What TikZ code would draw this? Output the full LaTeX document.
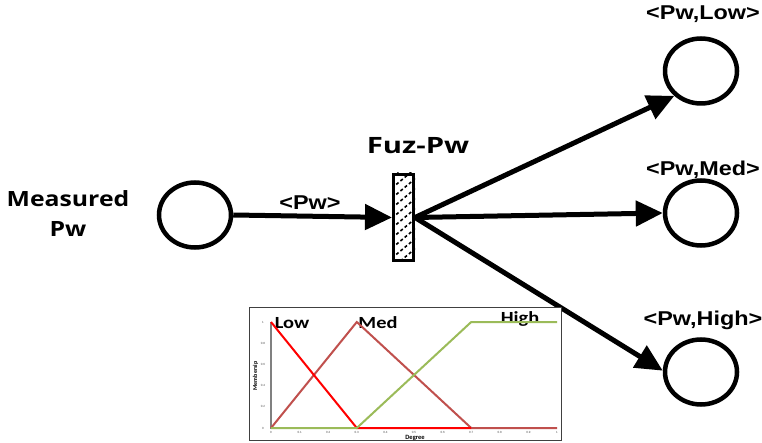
\documentclass[tikz,border=0pt]{standalone}
\usepackage{fontspec}
\setmainfont{Liberation Sans}
\newfontfamily\segoe{Open Sans}
\newfontfamily\cali{Carlito}
\usetikzlibrary{arrows.meta,shapes.geometric}
\definecolor{medc}{RGB}{192,80,77}
\definecolor{highc}{RGB}{155,187,89}
\definecolor{lowc}{RGB}{255,0,0}
\begin{document}
\begin{tikzpicture}[x=1pt,y=-1pt,
  place/.style={draw=black,line width=4.5pt,ellipse,minimum width=72pt,minimum height=65pt,inner sep=0pt},
  arc/.style={line width=5pt,-{Triangle[length=27pt,width=25pt]}},
  lbl/.style={font=\bfseries\fontsize{20}{22}\selectfont,inner sep=0pt},
  big/.style={font=\segoe\bfseries\fontsize{21}{30}\selectfont,inner sep=0pt,align=center},
  curve/.style={line width=2pt,line join=miter},
  tick/.style={font=\fontsize{3}{3}\selectfont,inner sep=0pt,text=black!70},
  chartlbl/.style={font=\cali\bfseries\fontsize{17}{18}\selectfont,inner sep=0pt,anchor=base}]
\useasboundingbox (0,0) rectangle (762,443);
% places
\node[place] (mp) at (195,215) {};
\node[place] (low) at (701,71) {};
\node[place] (med) at (701,213) {};
\node[place] (high) at (701,372) {};
% transition
\node[draw=black,line width=3pt,minimum width=20pt,minimum height=86pt,inner sep=0pt] (t) at (403.5,217.5) {};
\begin{scope}
\clip (t.south west) rectangle (t.north east);
\foreach \k in {0,...,9} {
  \draw[line width=1.6pt,dash pattern=on 3pt off 2.5pt] (392,{268-10*\k}) -- (416,{248-10*\k});
}
\end{scope}
\node[draw=black,line width=3pt,minimum width=20pt,minimum height=86pt,inner sep=0pt] at (403.5,217.5) {};
% labels
\node[big] (mlab) at (68,214) {\scalebox{1.18}[1]{Measured}\\\scalebox{1.18}[1]{Pw}};
\node[font=\segoe\bfseries\fontsize{22.5}{24}\selectfont,inner sep=0pt,anchor=base] (tlab) at (418,154) {\scalebox{1.3}[1]{Fuz-Pw}};
\node[lbl] (l0) at (310,203) {\scalebox{1.17}[1]{<Pw>}};
\node[lbl] (l1) at (703,14) {\scalebox{1.17}[1]{<Pw,Low>}};
\node[lbl] (l2) at (703,170) {\scalebox{1.17}[1]{<Pw,Med>}};
\node[lbl] (l3) at (703,320) {\scalebox{1.17}[1]{<Pw,High>}};
% arcs
\draw[arc] (mp.east) -- (t.west);
\draw[arc] (t.east) -- (low.223);
\draw[arc] (t.east) -- (med.west);
\draw[arc] (t.east) -- (high.178);
% chart
\node[draw=black!75,line width=1.2pt,fill=white,minimum width=312pt,minimum height=133pt,inner sep=0pt] (chart) at (405.5,374) {};
\draw[gray,line width=1.3pt] (271,322) -- (271,428) -- (557,428);
\foreach \v/\lab in {0/0,0.2/0.2,0.4/0.4,0.6/0.6,0.8/0.8,1/1} {
  \node[tick] at (263,{428-106*\v}) {\lab};
}
\foreach \v/\lab in {0/0,0.1/0.1,0.2/0.2,0.3/0.3,0.4/0.4,0.5/0.5,0.6/0.6,0.7/0.7,0.8/0.8,0.9/0.9,1/1} {
  \node[tick] at ({271+286*\v},432) {\lab};
}
\node[font=\cali\bfseries\fontsize{6.5}{7}\selectfont,inner sep=0pt,anchor=base] (deg) at (415,439.5) {Degree};
\node[font=\cali\bfseries\fontsize{6}{6}\selectfont,inner sep=0pt,rotate=90] (mem) at (255.5,376) {Membersip};
\node[chartlbl] (tl) at (292,328) {\scalebox{1.2}[1]{Low}};
\node[chartlbl] (tm) at (378,328) {\scalebox{1.2}[1]{Med}};
\node[chartlbl] (th) at (520,323.5) {\scalebox{1.2}[1]{High}};
\draw[curve,medc] (271,428) -- (356.8,322) -- (471.2,428) -- (557,428);
\draw[curve,lowc] (271,322) -- (356.8,428) -- (471.2,428);
\draw[curve,highc] (271,428) -- (356.8,428) -- (471.2,322) -- (557,322);
\end{tikzpicture}
\end{document}
